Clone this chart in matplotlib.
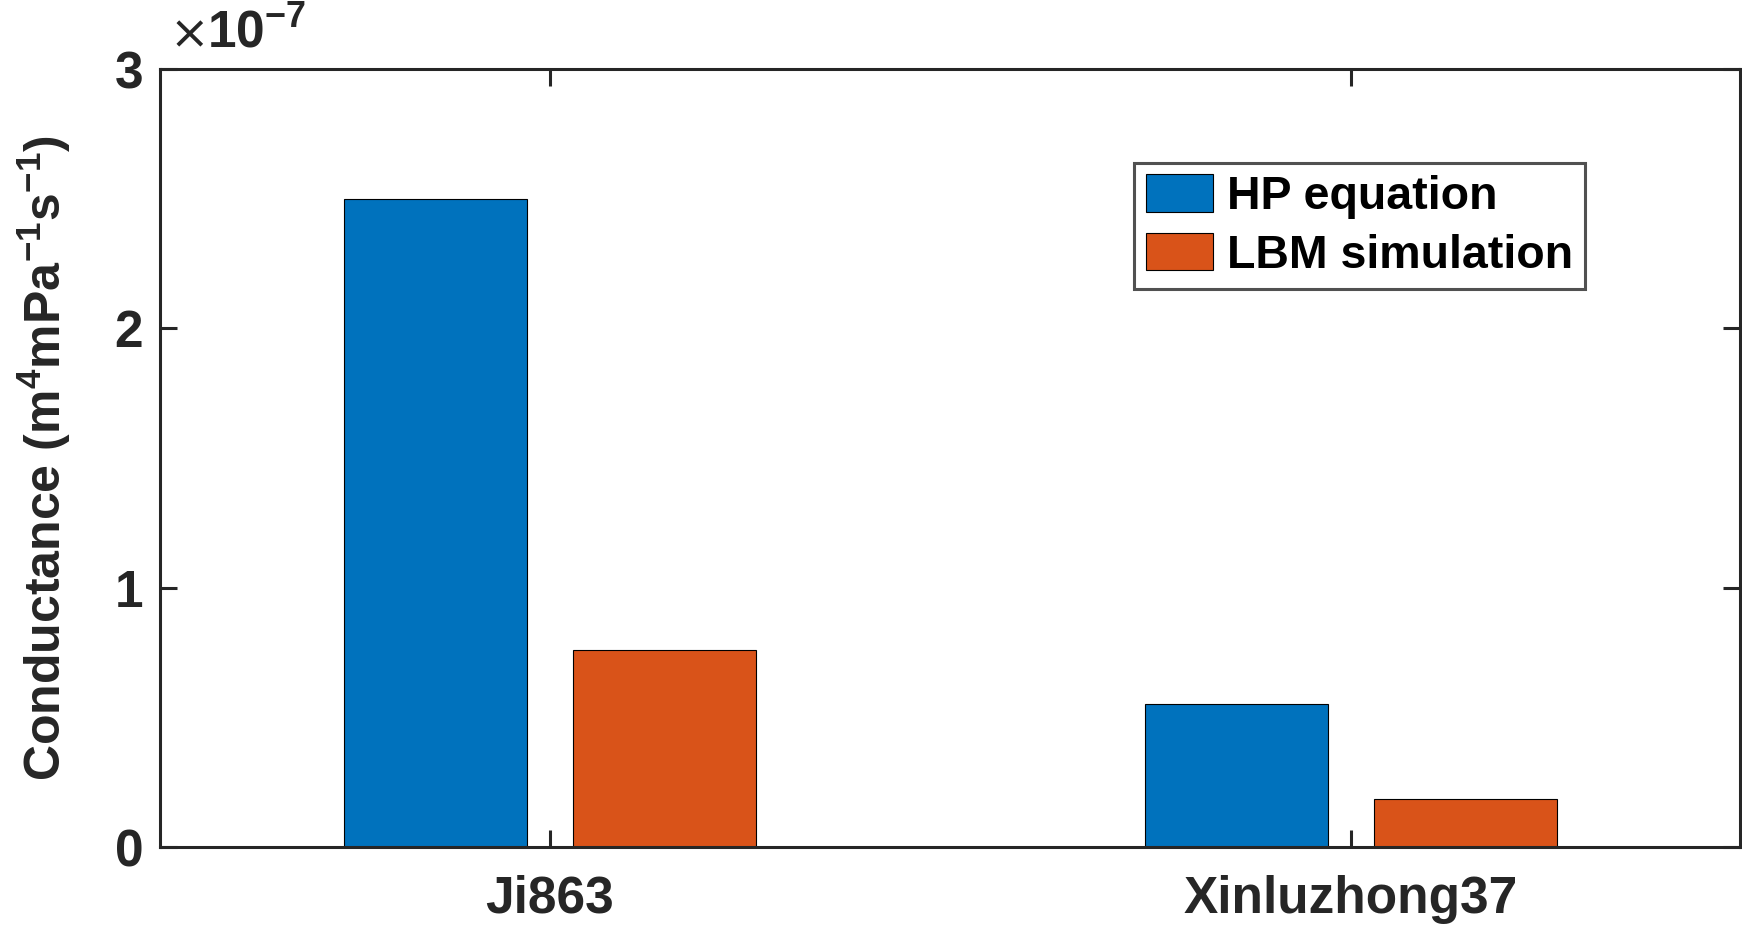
import numpy as np
import matplotlib.pyplot as plt
from matplotlib.ticker import FixedLocator, FuncFormatter

# data
cultivars = ["Ji863", "Xinluzhong37"]
hp_equation = [2.50e-7, 0.55e-7]
lbm_simulation = [0.76e-7, 0.185e-7]
yticks = [0, 1e-7, 2e-7, 3e-7]

plt.rcParams['font.family'] = ['Liberation Sans', 'DejaVu Sans']
plt.rcParams['font.weight'] = 'bold'
plt.rcParams['mathtext.fontset'] = 'custom'
plt.rcParams['mathtext.rm'] = 'Liberation Sans:bold'
plt.rcParams['mathtext.bf'] = 'Liberation Sans:bold'
plt.rcParams['mathtext.default'] = 'bf'

ink = '#262626'
blue = '#0072BD'
orange = '#D95319'

fig = plt.figure(figsize=(17.42, 9.26), dpi=100)
ax = fig.add_axes([0.0918, 0.0853, 0.907, 0.840])

x = np.arange(1, len(cultivars) + 1)
w = 0.2286
ax.bar(x - 0.1429, hp_equation, w, color=blue, edgecolor='black', linewidth=0.8,
       label='HP equation')
ax.bar(x + 0.1429, lbm_simulation, w, color=orange, edgecolor='black', linewidth=0.8,
       label='LBM simulation')

ax.set_xlim(0.513, 2.486)
ax.set_ylim(0, 3e-7)
ax.set_xticks(x)
ax.set_xticklabels(cultivars)
ax.yaxis.set_major_locator(FixedLocator(yticks))
ax.yaxis.set_major_formatter(FuncFormatter(lambda v, p: f"{v / 1e-7:g}"))

for s in ax.spines.values():
    s.set_linewidth(2.2)
    s.set_color(ink)
ax.tick_params(direction='in', length=12, width=2.2, color=ink,
               top=True, right=True, labelsize=37, labelcolor=ink)
ax.tick_params(axis='x', pad=20)
ax.tick_params(axis='y', pad=12)

ax.set_ylabel('Conductance (m$^{4}$mPa$^{-1}$s$^{-1}$)', fontsize=36,
              fontweight='bold', color=ink, labelpad=30)

# exponent label like MATLAB
ax.text(0.006, 1.014, '×', transform=ax.transAxes, fontsize=34,
        fontweight='normal', family='DejaVu Sans', color=ink, ha='left', va='bottom')
ax.text(0.030, 1.014, '10$^{-7}$', transform=ax.transAxes, fontsize=37,
        color=ink, ha='left', va='bottom')

leg = ax.legend(loc='upper right', bbox_to_anchor=(0.902, 0.880), borderaxespad=0,
                fontsize=33.5, frameon=True, fancybox=False, handlelength=1.45,
                handleheight=0.86, handletextpad=0.3, borderpad=0.25,
                labelspacing=0.3)
leg.get_frame().set_edgecolor(ink)
leg.get_frame().set_linewidth(2.2)
for t in leg.get_texts():
    t.set_color('black')

fig.savefig('out.png', dpi=100, facecolor='white')
